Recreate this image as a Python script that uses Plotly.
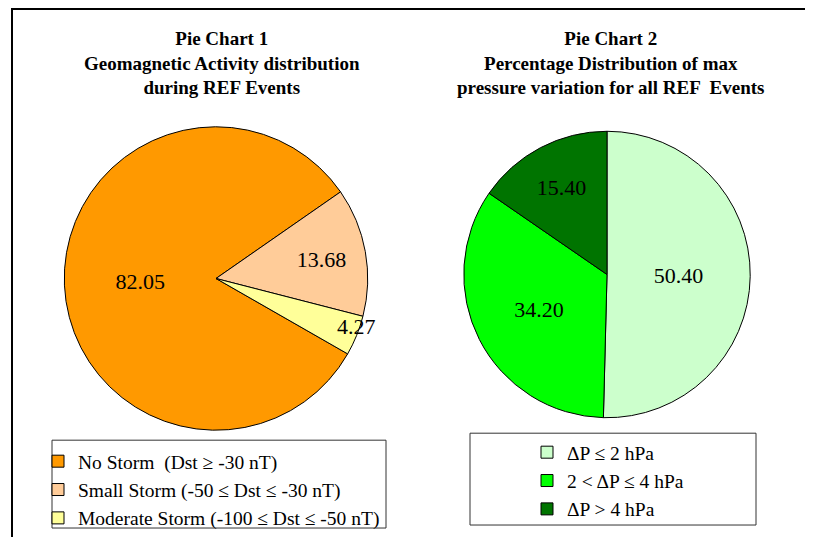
import math
import plotly.graph_objects as go

# The page body has an 8px default margin: figure is sized to fit the window.
OFF = 8
W, H = 813 - OFF, 538 - OFF

# Data
geo_labels = ["No Storm  (Dst ≥ -30 nT)", "Small Storm (-50 ≤ Dst ≤ -30 nT)", "Moderate Storm (-100 ≤ Dst ≤ -50 nT)"]
geo_values = [82.05, 13.68, 4.27]
geo_colors = ["#FF9900", "#FFCC99", "#FFFF99"]

pres_labels = ["ΔP ≤ 2 hPa", "2 < ΔP ≤ 4 hPa", "ΔP > 4 hPa"]
pres_values = [50.40, 34.20, 15.40]
pres_colors = ["#CCFFCC", "#00FF00", "#007400"]

title1 = "Pie Chart 1<br>Geomagnetic Activity distribution<br>during REF Events"
title2 = "Pie Chart 2<br>Percentage Distribution of max<br>pressure variation for all REF  Events"

SERIF = "Liberation Serif, Times New Roman, serif"


def px(x):
    """screen pixel x -> paper fraction"""
    return (x - OFF) / W


def py(y):
    """screen pixel y -> paper fraction"""
    return 1 - (y - OFF) / H


# Pie geometry (screen px)
P1 = dict(cx=216, cy=279, r=152, rot=119.8)
P2 = dict(cx=607, cy=275, r=143.5, rot=0)

# labels: the tiny slice is labelled by an annotation so its text keeps full size
geo_text = [f"{v:.2f}" for v in geo_values]
geo_text_shown = [t if v > 8 else "" for t, v in zip(geo_text, geo_values)]

fig = go.Figure()

fig.add_trace(go.Pie(
    labels=geo_labels, values=geo_values,
    text=geo_text_shown, textinfo="text",
    textposition="inside", insidetextorientation="horizontal",
    insidetextfont=dict(family=SERIF, size=22, color="black"),
    marker=dict(colors=geo_colors, line=dict(color="black", width=1)),
    sort=False, direction="clockwise", rotation=P1["rot"],
    domain=dict(x=[px(P1["cx"] - P1["r"]), px(P1["cx"] + P1["r"])],
                y=[py(P1["cy"] + P1["r"]), py(P1["cy"] - P1["r"])]),
    hoverinfo="label+value", legend="legend",
))

fig.add_trace(go.Pie(
    labels=pres_labels, values=pres_values,
    text=[f"{v:.2f}" for v in pres_values], textinfo="text",
    textposition="inside", insidetextorientation="horizontal",
    insidetextfont=dict(family=SERIF, size=22, color="black"),
    marker=dict(colors=pres_colors, line=dict(color="black", width=1)),
    sort=False, direction="clockwise", rotation=P2["rot"],
    domain=dict(x=[px(P2["cx"] - P2["r"]), px(P2["cx"] + P2["r"])],
                y=[py(P2["cy"] + P2["r"]), py(P2["cy"] - P2["r"])]),
    hoverinfo="label+value", legend="legend2",
))

# annotation for the small slice, placed at its mid-angle computed from the data
annotations = []
total = sum(geo_values)
cum = 0.0
for v, t in zip(geo_values, geo_text):
    if v <= 8:
        mid = P1["rot"] + 360 * (cum + v / 2) / total  # degrees clockwise from 12 o'clock
        rr = 0.9 * P1["r"]
        sx = P1["cx"] + rr * math.sin(math.radians(mid)) + 14
        sy = P1["cy"] - rr * math.cos(math.radians(mid)) - 3
        annotations.append(dict(text=t, x=px(sx), y=py(sy), xref="paper", yref="paper",
                                showarrow=False, xanchor="center", yanchor="middle",
                                font=dict(family=SERIF, size=22, color="black")))
    cum += v

annotations += [
    dict(text=f"<b>{title1}</b>", x=px(222), y=py(63), xref="paper", yref="paper",
         showarrow=False, font=dict(family=SERIF, size=19, color="black"),
         xanchor="center", yanchor="middle", align="center"),
    dict(text=f"<b>{title2}</b>", x=px(611), y=py(63), xref="paper", yref="paper",
         showarrow=False, font=dict(family=SERIF, size=19, color="black"),
         xanchor="center", yanchor="middle", align="center"),
]

shapes = [
    dict(type="line", xref="paper", yref="paper", x0=px(11), x1=px(813), y0=py(9), y1=py(9),
         line=dict(color="black", width=2)),
    dict(type="line", xref="paper", yref="paper", x0=px(12), x1=px(12), y0=py(8), y1=py(538),
         line=dict(color="black", width=2)),
    dict(type="rect", xref="paper", yref="paper", x0=px(52), x1=px(386), y0=py(529), y1=py(441),
         line=dict(color="#333333", width=1), fillcolor="rgba(0,0,0,0)"),
    dict(type="rect", xref="paper", yref="paper", x0=px(470), x1=px(756), y0=py(526), y1=py(434),
         line=dict(color="#333333", width=1), fillcolor="rgba(0,0,0,0)"),
]

fig.update_layout(
    width=W, height=H,
    margin=dict(l=0, r=0, t=0, b=0),
    paper_bgcolor="white", plot_bgcolor="white",
    showlegend=True,
    legend=dict(x=px(38), y=py(443), xanchor="left", yanchor="top",
                font=dict(family=SERIF, size=19.5, color="black"),
                bgcolor="rgba(0,0,0,0)", borderwidth=0),
    legend2=dict(x=px(527), y=py(433), xanchor="left", yanchor="top",
                 font=dict(family=SERIF, size=19.5, color="black"),
                 bgcolor="rgba(0,0,0,0)", borderwidth=0),
    shapes=shapes,
    annotations=annotations,
)

fig.write_html("out.html")
